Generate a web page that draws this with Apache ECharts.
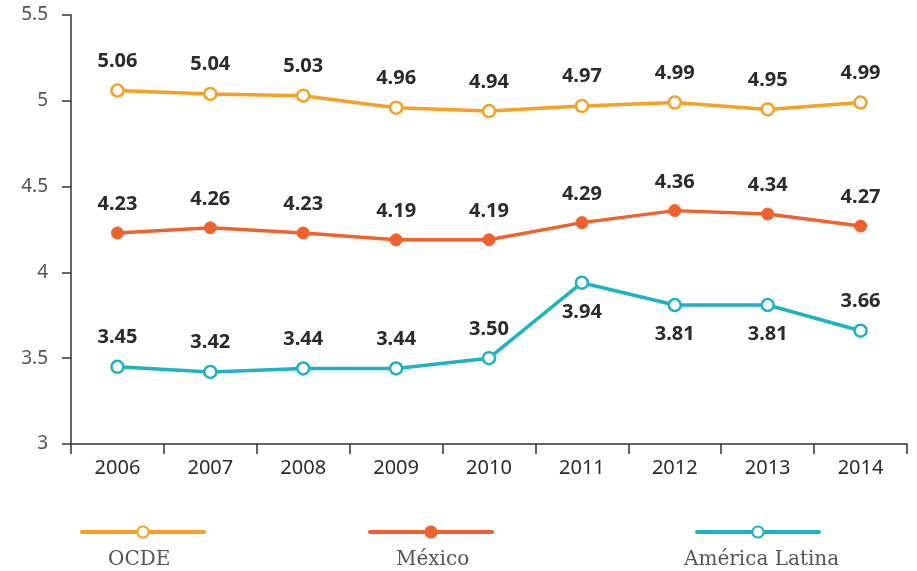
<!DOCTYPE html>
<html>
<head>
<meta charset="utf-8">
<script src="https://cdn.jsdelivr.net/npm/echarts@6/dist/echarts.min.js"></script>
<style>
    html, body { margin: 0; padding: 0; background: #fff; }
    #chart { width: 917px; height: 571px; }
</style>
</head>
<body>
<div id="chart"></div>
<script>
// datos del gráfico
const years = ['2006', '2007', '2008', '2009', '2010', '2011', '2012', '2013', '2014'];
const ocde = [5.06, 5.04, 5.03, 4.96, 4.94, 4.97, 4.99, 4.95, 4.99];
const mexico = [4.23, 4.26, 4.23, 4.19, 4.19, 4.29, 4.36, 4.34, 4.27];
const latam = [3.45, 3.42, 3.44, 3.44, 3.50, 3.94, 3.81, 3.81, 3.66];
// posición de la etiqueta de América Latina (arriba / abajo)
const latamLabelPos = ['top', 'top', 'top', 'top', 'top', 'bottom', 'bottom', 'bottom', 'top'];

const numFont = 'Noto Sans';
const legendFont = 'DejaVu Serif';

function makeSeries(name, values, color, hollow, positions) {
    return {
        name: name,
        type: 'line',
        data: values.map((v, i) => ({
            value: v,
            label: { position: positions ? positions[i] : 'top' }
        })),
        symbol: 'circle',
        symbolSize: 12,
        lineStyle: { color: color, width: 3.5 },
        itemStyle: hollow
            ? { color: '#fff', borderColor: color, borderWidth: 2.5 }
            : { color: color, borderColor: color, borderWidth: 1 },
        label: {
            show: true,
            distance: 12,
            formatter: p => p.value.toFixed(2),
            fontFamily: numFont,
            fontWeight: 'bold',
            fontSize: 20,
            color: '#2b2b2b'
        },
        emphasis: { disabled: true },
        z: 3
    };
}

function makeLegend(name, left) {
    return {
        data: [name],
        left: left,
        top: 525,
        padding: 0,
        itemWidth: 122,
        itemHeight: 14,
        formatter: () => '',
        selectedMode: false,
        lineStyle: { width: 4, cap: 'round' }
    };
}

const chart = echarts.init(document.getElementById('chart'));
chart.setOption({
    animation: false,
    grid: { left: 71, right: 10, top: 15, bottom: 127 },
    xAxis: {
        type: 'category',
        data: years,
        boundaryGap: true,
        axisLine: { lineStyle: { color: '#333', width: 1.5 } },
        axisTick: { show: true, length: 10, inside: false, lineStyle: { color: '#333', width: 1.5 } },
        axisLabel: { fontFamily: numFont, fontSize: 20, color: '#2b2b2b', margin: 14 },
        splitLine: { show: false }
    },
    yAxis: {
        type: 'value',
        min: 3,
        max: 5.5,
        interval: 0.5,
        axisLine: { show: true, lineStyle: { color: '#333', width: 1.5 } },
        axisTick: { show: true, length: 9, lineStyle: { color: '#333', width: 1.5 } },
        axisLabel: { fontFamily: numFont, fontSize: 19, color: '#555', margin: 23 },
        splitLine: { show: false }
    },
    legend: [
        makeLegend('OCDE', 80),
        makeLegend('México', 368),
        makeLegend('América Latina', 695)
    ],
    graphic: [
        { type: 'text', left: 108, top: 550, style: { text: 'OCDE', font: '20px "' + legendFont + '"', fill: '#555' } },
        { type: 'text', left: 396, top: 550, style: { text: 'México', font: '20px "' + legendFont + '"', fill: '#555' } },
        { type: 'text', left: 684, top: 550, style: { text: 'América Latina', font: '20px "' + legendFont + '"', fill: '#555' } }
    ],
    series: [
        makeSeries('OCDE', ocde, '#F7A024', true),
        makeSeries('México', mexico, '#F0622D', false),
        makeSeries('América Latina', latam, '#1DB3C2', true, latamLabelPos)
    ]
});
window.addEventListener('resize', function () {
    chart.resize();
});
</script>
</body>
</html>
